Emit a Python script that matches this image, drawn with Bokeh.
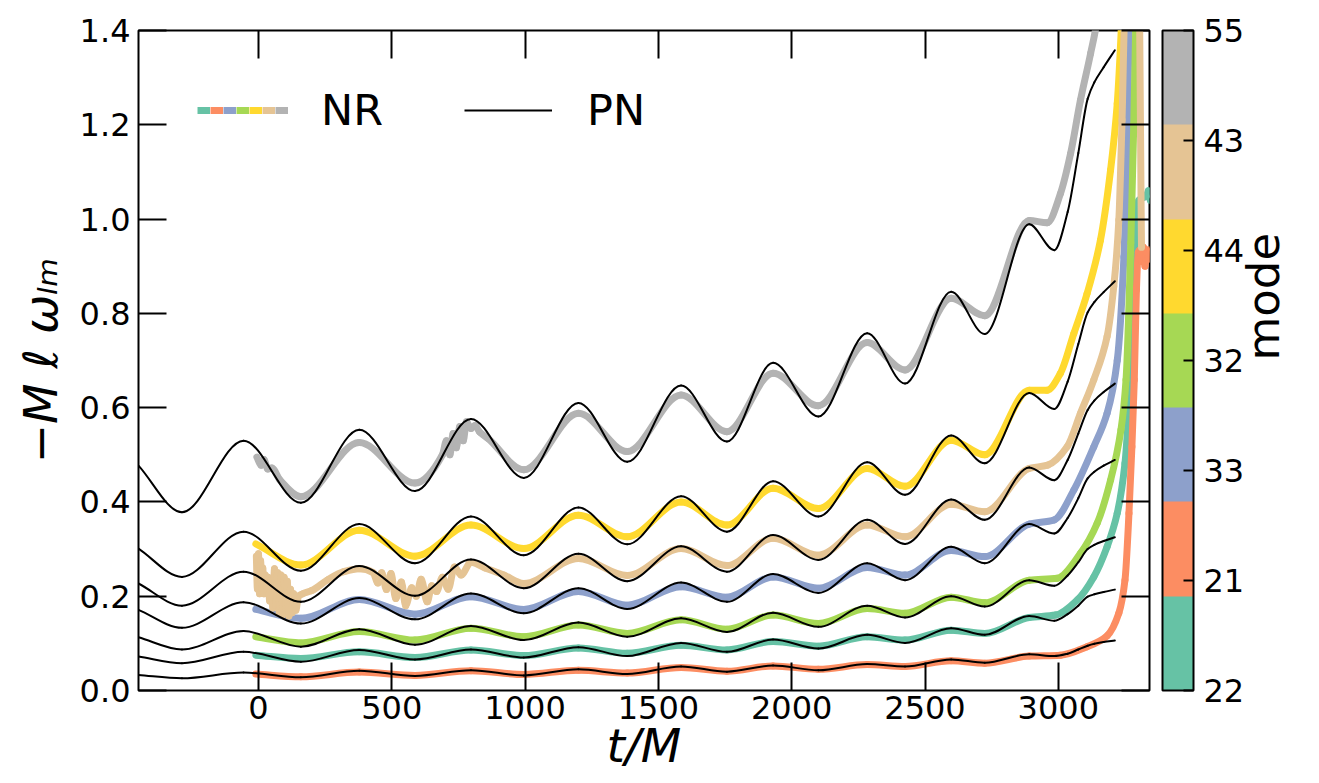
import numpy as np
from bokeh.plotting import figure
from bokeh.models import (Range1d, FixedTicker, LinearAxis, PrintfTickFormatter,
                          ColorBar, LinearColorMapper, Legend, LegendItem,
                          ColumnDataSource)
from bokeh.embed import file_html
from bokeh.resources import INLINE

FONT = "DejaVu Sans"

# ---------------- data ----------------
modes = ["22", "21", "33", "32", "44", "43", "55"]
colors = ["#66c2a5", "#fc8d62", "#8da0cb", "#a6d854", "#ffd92f", "#e5c494", "#b3b3b3"]

x_ticks = [0, 500, 1000, 1500, 2000, 2500, 3000]
y_ticks = [0.0, 0.2, 0.4, 0.6, 0.8, 1.0, 1.2, 1.4]
X_START, X_END = -450, 3342
Y_START, Y_END = 0.0, 1.4

# PN curves (thin black), sampled at extrema and along the final rise
pn_t = [-450, -287, -56, 159, 378, 587, 797, 995, 1200, 1383, 1585, 1757, 1930,
        2100, 2283, 2425, 2598, 2724, 2891, 2985, 3035, 3075, 3110, 3135, 3170, 3212]
pn_55 = [0.477, 0.378, 0.530, 0.398, 0.553, 0.423, 0.576, 0.451, 0.610, 0.485, 0.647, 0.528, 0.695,
         0.581, 0.758, 0.651, 0.846, 0.756, 0.989, 0.934, 1.015, 1.140, 1.255, 1.290, 1.322, 1.358]
pn_44 = [0.301, 0.241, 0.337, 0.254, 0.353, 0.270, 0.369, 0.287, 0.388, 0.310, 0.412, 0.337, 0.444,
         0.369, 0.484, 0.415, 0.541, 0.482, 0.631, 0.597, 0.655, 0.735, 0.802, 0.824, 0.845, 0.868]
pn_43 = [0.227, 0.180, 0.252, 0.188, 0.264, 0.201, 0.278, 0.217, 0.290, 0.232, 0.306, 0.252, 0.330,
         0.277, 0.362, 0.311, 0.405, 0.362, 0.473, 0.446, 0.489, 0.545, 0.595, 0.615, 0.633, 0.651]
pn_33 = [0.171, 0.133, 0.187, 0.142, 0.196, 0.151, 0.206, 0.164, 0.217, 0.173, 0.229, 0.188, 0.247,
         0.207, 0.270, 0.234, 0.305, 0.270, 0.353, 0.333, 0.366, 0.408, 0.450, 0.464, 0.477, 0.489]
pn_32 = [0.113, 0.087, 0.126, 0.093, 0.130, 0.097, 0.137, 0.107, 0.144, 0.114, 0.153, 0.124, 0.165,
         0.135, 0.180, 0.155, 0.200, 0.178, 0.234, 0.222, 0.244, 0.272, 0.300, 0.309, 0.317, 0.325]
pn_22 = [0.072, 0.058, 0.082, 0.061, 0.086, 0.066, 0.087, 0.070, 0.092, 0.073, 0.101, 0.082, 0.108,
         0.089, 0.118, 0.101, 0.132, 0.118, 0.158, 0.148, 0.162, 0.180, 0.199, 0.204, 0.209, 0.214]
pn_21 = [0.033, 0.026, 0.038, 0.028, 0.042, 0.031, 0.043, 0.032, 0.045, 0.035, 0.051, 0.040, 0.053,
         0.043, 0.056, 0.051, 0.066, 0.059, 0.077, 0.073, 0.078, 0.087, 0.095, 0.099, 0.103, 0.106]

# NR curves (thick coloured)
nr_t_55 = [-6, 10, 20, 35, 50, 80, 159, 378, 587, 690, 705, 718, 730, 742, 755, 768, 780, 797, 812, 830,
           860, 995, 1200, 1383, 1585, 1757, 1930, 2100, 2283, 2425, 2598, 2724, 2891, 2958, 3008, 3046,
           3083, 3121, 3145, 3170]
nr_v_55 = [0.495, 0.478, 0.490, 0.470, 0.472, 0.447, 0.411, 0.526, 0.440, 0.500, 0.530, 0.500, 0.545,
           0.515, 0.560, 0.530, 0.570, 0.556, 0.562, 0.548, 0.535, 0.468, 0.588, 0.507, 0.627, 0.549,
           0.673, 0.604, 0.738, 0.680, 0.832, 0.795, 0.997, 0.992, 1.054, 1.139, 1.252, 1.351, 1.420, 1.550]

nr_t_44 = [-10, 159, 378, 587, 797, 995, 1200, 1383, 1585, 1757, 1930, 2100, 2283, 2425, 2598, 2724,
           2891, 2958, 3008, 3058, 3108, 3158, 3196, 3221, 3236, 3250]
nr_v_44 = [0.311, 0.266, 0.340, 0.285, 0.351, 0.301, 0.372, 0.326, 0.400, 0.351, 0.429, 0.386, 0.471,
           0.433, 0.531, 0.500, 0.637, 0.637, 0.673, 0.757, 0.842, 0.955, 1.104, 1.245, 1.400, 1.600]

nr_t_43 = [-8, -4, 0, 4, 8, 12, 16, 20, 25, 30, 36, 42, 48, 54, 60, 66, 72, 78, 84, 90,
           96, 102, 108, 114, 120, 126, 132, 140, 150, 165, 200, 260, 320, 378, 430, 448, 462, 480, 497, 515,
           536, 552, 575, 592, 610, 633, 650, 668, 690, 712, 735, 760, 797, 850, 920, 995, 1200, 1383, 1585, 1757,
           1930, 2100, 2283, 2425, 2598, 2724, 2891, 2960, 3033, 3083, 3133, 3183, 3208, 3227, 3239, 3250, 3300, 3312]
nr_v_43 = [0.285, 0.215, 0.290, 0.205, 0.275, 0.220, 0.260, 0.205, 0.245, 0.215,
           0.240, 0.190, 0.235, 0.175, 0.258, 0.180, 0.250, 0.163, 0.245, 0.160,
           0.240, 0.170, 0.232, 0.158, 0.215, 0.165, 0.205, 0.170, 0.200, 0.205,
           0.212, 0.235, 0.252, 0.258, 0.250, 0.228, 0.250, 0.214, 0.248, 0.195,
           0.230, 0.180, 0.218, 0.200, 0.236, 0.188, 0.222, 0.210, 0.240, 0.215,
           0.262, 0.245, 0.272, 0.260, 0.245, 0.227, 0.280, 0.244, 0.301, 0.265,
           0.323, 0.287, 0.351, 0.326, 0.395, 0.379, 0.471, 0.478, 0.517, 0.588,
           0.659, 0.751, 0.857, 0.998, 1.210, 1.450, 1.600, 0.940]

nr_t_33 = [-10, 159, 378, 587, 797, 995, 1200, 1383, 1585, 1757, 1930, 2100, 2283, 2425, 2598, 2724,
           2891, 2985, 3058, 3133, 3183, 3221, 3246, 3258, 3265, 3275]
nr_v_33 = [0.172, 0.153, 0.193, 0.162, 0.199, 0.172, 0.210, 0.181, 0.220, 0.198, 0.241, 0.217, 0.261,
           0.245, 0.297, 0.284, 0.353, 0.362, 0.425, 0.517, 0.588, 0.700, 0.920, 1.140, 1.400, 1.650]

nr_t_32 = [-10, 159, 378, 587, 797, 995, 1200, 1383, 1585, 1757, 1930, 2100, 2283, 2425, 2598, 2724,
           2891, 2996, 3083, 3146, 3196, 3235, 3254, 3272, 3283, 3290, 3298]
nr_v_32 = [0.114, 0.101, 0.125, 0.107, 0.132, 0.114, 0.139, 0.121, 0.150, 0.130, 0.160, 0.142, 0.174,
           0.164, 0.198, 0.186, 0.234, 0.238, 0.291, 0.355, 0.446, 0.553, 0.659, 0.950, 1.200, 1.400, 1.650]

nr_t_22 = [-10, 159, 378, 587, 797, 995, 1200, 1383, 1585, 1757, 1930, 2100, 2283, 2425, 2598, 2724,
           2891, 2990, 3071, 3133, 3183, 3221, 3250, 3264, 3274, 3285, 3294, 3302, 3315, 3330, 3338, 3345]
nr_v_22 = [0.075, 0.068, 0.082, 0.070, 0.086, 0.074, 0.090, 0.079, 0.096, 0.086, 0.104, 0.094, 0.114,
           0.107, 0.128, 0.121, 0.155, 0.160, 0.192, 0.241, 0.305, 0.376, 0.482, 0.588, 0.659, 0.850,
           1.000, 1.040, 1.045, 1.048, 1.060, 1.040]

nr_t_21 = [-10, 159, 378, 587, 797, 995, 1200, 1383, 1585, 1757, 1930, 2100, 2283, 2425, 2598, 2724,
           2891, 3008, 3108, 3183, 3227, 3250, 3265, 3276, 3285, 3293, 3300, 3307, 3313, 3319, 3325, 3331,
           3338, 3345]
nr_v_21 = [0.035, 0.029, 0.039, 0.032, 0.042, 0.034, 0.043, 0.037, 0.049, 0.041, 0.052, 0.045, 0.055,
           0.051, 0.063, 0.058, 0.073, 0.075, 0.093, 0.116, 0.164, 0.234, 0.376, 0.517, 0.659, 0.850,
           0.930, 0.935, 0.910, 0.940, 0.900, 0.935, 0.915, 0.935]

nr_series = {"22": (nr_t_22, nr_v_22), "21": (nr_t_21, nr_v_21), "33": (nr_t_33, nr_v_33),
             "32": (nr_t_32, nr_v_32), "44": (nr_t_44, nr_v_44), "43": (nr_t_43, nr_v_43),
             "55": (nr_t_55, nr_v_55)}
pn_series = {"22": pn_22, "21": pn_21, "33": pn_33, "32": pn_32, "44": pn_44, "43": pn_43, "55": pn_55}


def smooth_source(t, v):
    """Shape-preserving cubic (Bezier) segments through the read points."""
    t = np.asarray(t, dtype=float)
    v = np.asarray(v, dtype=float)
    h = np.diff(t)
    d = np.diff(v) / h
    n = len(t)
    m = np.zeros(n)
    m[0] = d[0]
    m[-1] = d[-1]
    for k in range(1, n - 1):
        if d[k - 1] * d[k] > 0:
            w1 = 2 * h[k] + h[k - 1]
            w2 = h[k] + 2 * h[k - 1]
            m[k] = (w1 + w2) / (w1 / d[k - 1] + w2 / d[k])
    return ColumnDataSource(dict(
        x0=t[:-1], y0=v[:-1], x1=t[1:], y1=v[1:],
        cx0=t[:-1] + h / 3, cy0=v[:-1] + m[:-1] * h / 3,
        cx1=t[1:] - h / 3, cy1=v[1:] - m[1:] * h / 3))


# ---------------- figure ----------------
W, H = 1319, 783
p = figure(width=W, height=H,
           x_range=Range1d(X_START, X_END), y_range=Range1d(Y_START, Y_END),
           output_backend="svg", toolbar_location=None,
           min_border_left=138, min_border_top=30, min_border_right=170, min_border_bottom=93)
p.grid.visible = False
p.outline_line_color = "black"
p.outline_line_width = 2
p.background_fill_color = "white"
p.border_fill_color = "white"

bez = dict(x0="x0", y0="y0", x1="x1", y1="y1", cx0="cx0", cy0="cy0", cx1="cx1", cy1="cy1")

for mode, col in zip(modes, colors):
    t, v = nr_series[mode]
    p.bezier(source=smooth_source(t, v), line_color=col, line_width=7, line_cap="round", **bez)

for mode in modes:
    p.bezier(source=smooth_source(pn_t, pn_series[mode]), line_color="black", line_width=2,
             line_cap="round", **bez)


def style_axis(ax, ticks, show_labels):
    ax.ticker = FixedTicker(ticks=ticks)
    ax.axis_line_color = None
    ax.major_tick_in = 28
    ax.major_tick_out = 0
    ax.major_tick_line_color = "black"
    ax.major_tick_line_width = 2
    ax.minor_tick_line_color = None
    ax.major_label_text_font = FONT
    ax.major_label_text_color = "black"
    if show_labels:
        ax.major_label_text_font_size = "32px"
        ax.major_label_standoff = 5
    else:
        ax.major_label_text_font_size = "1px"
        ax.major_label_text_alpha = 0
        ax.major_label_standoff = 0


xa = p.xaxis[0]
ya = p.yaxis[0]
style_axis(xa, x_ticks, True)
style_axis(ya, y_ticks, True)
ya.formatter = PrintfTickFormatter(format="%.1f")
ya.major_label_standoff = 8

xa.axis_label = "t/M"
ya.axis_label = "\u2212M \u2113 \u03c9\u2097\u2098"
for ax, st in ((xa, -4), (ya, 9)):
    ax.axis_label_text_font = FONT
    ax.axis_label_text_font_size = "47px"
    ax.axis_label_text_font_style = "italic"
    ax.axis_label_text_color = "black"
    ax.axis_label_standoff = st

top_ax = LinearAxis()
style_axis(top_ax, x_ticks, False)
p.add_layout(top_ax, "above")
right_ax = LinearAxis()
style_axis(right_ax, y_ticks, False)
p.add_layout(right_ax, "right")

# colour bar
mapper = LinearColorMapper(palette=colors, low=0, high=len(modes) - 1)
cb = ColorBar(color_mapper=mapper, ticker=FixedTicker(ticks=list(range(len(modes)))),
              major_label_overrides={i: m for i, m in enumerate(modes)},
              width=31, height=660, padding=0, margin=0, location=(13, 0),
              bar_line_color="black", bar_line_width=2,
              major_tick_in=10, major_tick_out=0, major_tick_line_color="black",
              major_tick_line_width=2, minor_tick_line_color=None,
              label_standoff=10, major_label_text_font=FONT,
              major_label_text_font_size="32px", major_label_text_color="black",
              border_line_color=None, background_fill_alpha=0)
p.add_layout(cb, "right")

# colour-bar title as a label-only axis outside the colour bar
mode_ax = LinearAxis(ticker=FixedTicker(ticks=[]), axis_line_color=None,
                     major_tick_line_color=None, minor_tick_line_color=None,
                     major_label_text_alpha=0, major_label_text_font_size="1px",
                     major_label_standoff=0, major_tick_in=0, major_tick_out=0,
                     axis_label="mode", axis_label_text_font=FONT,
                     axis_label_text_font_size="45px", axis_label_text_font_style="normal",
                     axis_label_text_color="black", axis_label_standoff=16)
try:
    mode_ax.axis_label_orientation = np.pi / 2
except AttributeError:
    pass
p.add_layout(mode_ax, "right")

# legend: multicoloured NR sample + labels
nan = [float("nan")]
nr_dummies = [p.line(x=nan, y=nan, line_color=c, line_width=7) for c in colors]
nr_blank = p.line(x=nan, y=nan, line_alpha=0, line_width=7)
pn_dummy = p.line(x=nan, y=nan, line_color="black", line_width=2)

leg_text = Legend(items=[LegendItem(label="NR", renderers=[nr_blank]),
                         LegendItem(label="PN", renderers=[pn_dummy])],
                  orientation="horizontal", location=(60, 554),
                  glyph_width=88, glyph_height=52, label_height=52, label_width=20,
                  label_standoff=35, spacing=81, padding=0, margin=0,
                  label_text_font=FONT, label_text_font_size="43px", label_text_color="black",
                  background_fill_alpha=0, border_line_color=None)
leg_colors = Legend(items=[LegendItem(label="", renderers=[r]) for r in nr_dummies],
                    orientation="horizontal", location=(59, 554),
                    glyph_width=13, glyph_height=52, label_height=52, label_width=0,
                    label_standoff=0, spacing=0, padding=0, margin=0,
                    label_text_font_size="1px", label_text_alpha=0,
                    background_fill_alpha=0, border_line_color=None)
p.add_layout(leg_text)
p.add_layout(leg_colors)

open("out.html", "w").write(file_html(p, INLINE))
